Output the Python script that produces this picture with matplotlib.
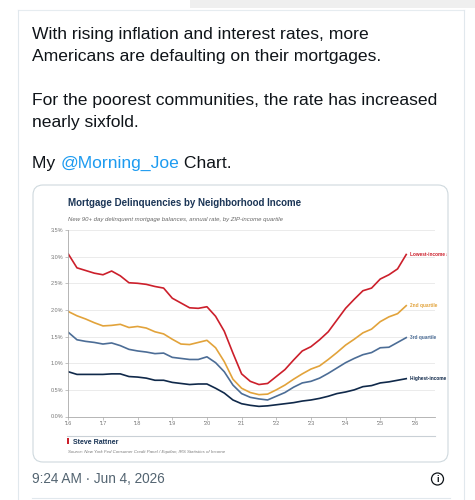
import numpy as np
import matplotlib.pyplot as plt
import matplotlib.transforms as mtransforms
from matplotlib.patches import FancyBboxPatch, Rectangle, Ellipse
from matplotlib.lines import Line2D

# quarterly values, 2016 Q1 .. 2025 Q4 (percent)
quarters = np.arange(40)
lowest = [3.05, 2.79, 2.74, 2.69, 2.66, 2.73, 2.64, 2.51, 2.50, 2.48,
          2.44, 2.41, 2.22, 2.13, 2.04, 2.03, 2.06, 1.88, 1.60, 1.19,
          0.80, 0.66, 0.60, 0.62, 0.75, 0.88, 1.06, 1.23, 1.31, 1.44,
          1.59, 1.81, 2.03, 2.20, 2.36, 2.41, 2.58, 2.66, 2.77, 3.04]
second = [1.97, 1.89, 1.83, 1.76, 1.70, 1.71, 1.73, 1.67, 1.69, 1.66,
          1.59, 1.55, 1.45, 1.36, 1.35, 1.39, 1.43, 1.29, 1.03, 0.70,
          0.53, 0.45, 0.41, 0.42, 0.50, 0.59, 0.70, 0.80, 0.89, 0.95,
          1.07, 1.20, 1.34, 1.45, 1.57, 1.64, 1.78, 1.87, 1.93, 2.08]
third = [1.58, 1.44, 1.41, 1.39, 1.36, 1.38, 1.33, 1.26, 1.23, 1.21,
         1.18, 1.19, 1.11, 1.09, 1.07, 1.07, 1.12, 1.01, 0.84, 0.59,
         0.43, 0.36, 0.33, 0.31, 0.38, 0.45, 0.55, 0.63, 0.66, 0.72,
         0.81, 0.91, 1.01, 1.09, 1.16, 1.20, 1.29, 1.30, 1.39, 1.48]
highest = [0.84, 0.79, 0.79, 0.79, 0.79, 0.80, 0.80, 0.75, 0.74, 0.72,
           0.68, 0.68, 0.64, 0.62, 0.60, 0.61, 0.61, 0.53, 0.44, 0.31,
           0.24, 0.21, 0.19, 0.20, 0.22, 0.24, 0.26, 0.29, 0.31, 0.34,
           0.38, 0.43, 0.46, 0.50, 0.56, 0.58, 0.63, 0.65, 0.68, 0.71]
series_names = ["Lowest-income areas", "2nd quartile", "3rd quartile", "Highest-income areas"]
series_colors = ["#cc1f2b", "#e2a33b", "#4c6d96", "#10294a"]
years = np.arange(2016, 2027)
year_labels = ["'%02d" % (y % 100) for y in years]
yticks = np.arange(0, 3.51, 0.5)

tweet_lines = ["With rising inflation and interest rates, more",
               "Americans are defaulting on their mortgages.",
               "",
               "For the poorest communities, the rate has increased",
               "nearly sixfold.",
               ""]

W, H = 475, 500
fig = plt.figure(figsize=(W / 100, H / 100), dpi=100)
fig.patch.set_facecolor("white")
# pixel coordinates measured from the top-left corner
pix = mtransforms.Affine2D().scale(1 / 100, -1 / 100).translate(0, H / 100) + fig.dpi_scale_trans

sans = ["Liberation Sans", "DejaVu Sans"]

# tweet frame
fig.add_artist(Rectangle((190, 0), 285, 8, transform=pix, color="#efefef", lw=0, zorder=0))
fig.add_artist(Line2D([17.5, 464], [10, 10], transform=pix, color="#e6ecf0", lw=0.8, zorder=0))
fig.add_artist(Line2D([17.5, 17.5], [10, 500], transform=pix, color="#e1e8ed", lw=0.8, zorder=0))
fig.add_artist(Line2D([464, 464], [10, 500], transform=pix, color="#e1e8ed", lw=0.8, zorder=0))
fig.add_artist(Line2D([32, 450], [497.5, 497.5], transform=pix, color="#e1e8ed", lw=0.8, zorder=0))

# tweet text
base = 39.3
for i, line in enumerate(tweet_lines):
    fig.text(32.3, base + i * 21.8, line, transform=pix, fontsize=12.6,
             family=sans, color="#0f1419", va="baseline")
t1 = fig.text(32.3, 168.3, "My ", transform=pix, fontsize=12.6, family=sans,
              color="#0f1419", va="baseline")
fig.canvas.draw()
r = fig.canvas.get_renderer()
bb = t1.get_window_extent(r)
t2 = fig.text(32.3 + bb.width * 100 / fig.dpi, 168.3, "@Morning_Joe", transform=pix,
              fontsize=12.6, family=sans, color="#1d9bf0", va="baseline")
bb2 = t2.get_window_extent(r)
fig.text(32.3 + (bb.width + bb2.width) * 100 / fig.dpi, 168.3, " Chart.", transform=pix,
         fontsize=12.6, family=sans, color="#0f1419", va="baseline")

# chart card
card = FancyBboxPatch((33, 185), 415, 277, boxstyle="round,pad=0,rounding_size=10",
                      transform=pix, facecolor="white", edgecolor="#cfd9de", lw=0.8, zorder=0)
fig.add_artist(card)
fig.text(68.3, 206.5, "Mortgage Delinquencies by Neighborhood Income", transform=pix,
         fontsize=7.0, family=sans, weight="bold", color="#1b3556", va="baseline")
fig.text(68.3, 220.5, "New 90+ day delinquent mortgage balances, annual rate, by ZIP-income quartile",
         transform=pix, fontsize=4.3, family=sans, style="italic", color="#666666", va="baseline")

ax = fig.add_axes([68.3 / W, 1 - 416.5 / H, (435 - 68.3) / W, (416.5 - 230) / H])
ax.set_zorder(2)
ax.set_facecolor("none")
clip = mtransforms.TransformedBbox(
    mtransforms.Bbox.from_extents(33 / W, 1 - 462 / H, 446.5 / W, 1 - 185 / H), fig.transFigure)
x = 2016 + quarters / 4
for vals, name, col in zip([lowest, second, third, highest], series_names, series_colors):
    ax.plot(x, vals, color=col, lw=1.2, solid_joinstyle="round")
    t = ax.annotate(name, xy=(x[-1], vals[-1]), xytext=(3, 0), textcoords="offset points",
                    fontsize=3.4, family=sans, weight="bold", color=col, va="center",
                    annotation_clip=False)
    t.set_clip_on(True)
    t.set_clip_box(clip)

ax.set_xlim(2016, 2026.58)
ax.set_ylim(0, 3.5)
ax.set_yticks(yticks)
ax.set_yticklabels(["%.1f%%" % v for v in yticks])
ax.set_xticks(years)
ax.set_xticklabels(year_labels)
ax.grid(axis="y", color="#e8e8e8", lw=0.6)
ax.set_axisbelow(True)
for s in ["top", "right"]:
    ax.spines[s].set_visible(False)
for s in ["left", "bottom"]:
    ax.spines[s].set_color("#aaaaaa")
    ax.spines[s].set_linewidth(0.6)
ax.tick_params(axis="both", labelsize=4.0, colors="#aaaaaa", length=2, width=0.5, pad=1.5,
               labelcolor="#777777")
for lab in ax.get_xticklabels() + ax.get_yticklabels():
    lab.set_family(sans)

# footer of the card
fig.add_artist(Line2D([66.7, 435], [436, 436], transform=pix, color="#c9d0d6", lw=0.8))
fig.add_artist(Rectangle((66.7, 437.5), 2, 6.5, transform=pix, color="#cc1f2b", lw=0))
fig.text(72.7, 444, "Steve Rattner", transform=pix, fontsize=5.0, family=sans,
         weight="bold", color="#1b3556", va="baseline")
fig.text(67.7, 453.5, "Source: New York Fed Consumer Credit Panel / Equifax; IRS Statistics of Income",
         transform=pix, fontsize=3.2, family=sans, style="italic", color="#777777", va="baseline")

# timestamp and info icon
fig.text(32.3, 483.3, "9:24 AM \u00b7 Jun 4, 2026", transform=pix, fontsize=9.8,
         family=sans, color="#536471", va="baseline")
fig.add_artist(Ellipse((437.5, 479), 12, 12, transform=pix, facecolor="none",
                       edgecolor="#0f1419", lw=0.9))
fig.text(437.5, 479.5, "i", transform=pix, fontsize=6.5, family=sans, weight="bold",
         color="#0f1419", ha="center", va="center")

fig.savefig("out.png", dpi=100)
